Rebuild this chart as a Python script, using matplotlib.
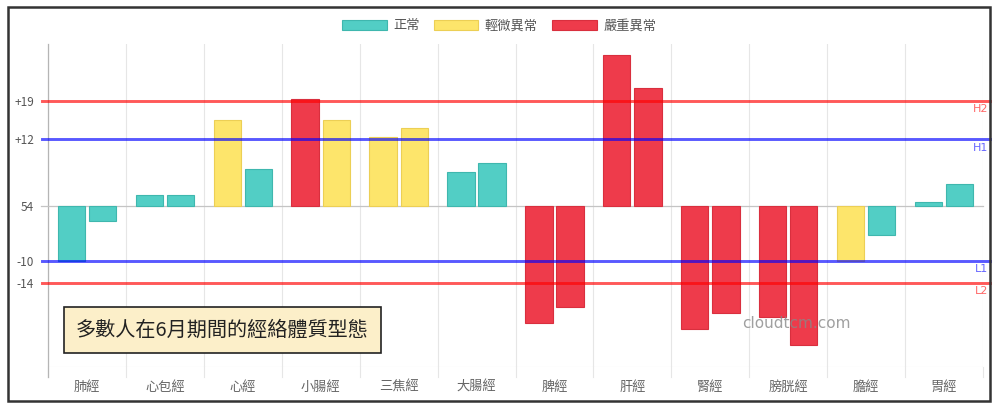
import matplotlib
matplotlib.use('Agg')
import matplotlib.pyplot as plt
from matplotlib.patches import Patch, Rectangle
import numpy as np

plt.rcParams['font.family'] = ['Noto Sans CJK TC', 'DejaVu Sans']

# 經絡名稱與兩組數值（相對於基準 54 的偏差）
categories = ['肺經', '心包經', '心經', '小腸經', '三焦經', '大腸經',
              '脾經', '肝經', '腎經', '膀胱經', '膽經', '胃經']
values_a = [-10, 1.9, 15.5, 19.3, 12.4, 6.1, -21.4, 27.4, -22.4, -20.2, -10, 0.7]
values_b = [-2.8, 1.9, 6.7, 15.5, 14.1, 7.7, -18.5, 21.4, -19.5, -25.3, -5.4, 4.0]
status_a = [0, 0, 1, 2, 1, 0, 2, 2, 2, 2, 1, 0]
status_b = [0, 0, 0, 1, 1, 0, 2, 2, 2, 2, 0, 0]

status_names = ['正常', '輕微異常', '嚴重異常']
status_colors = ['#52cec5', '#fde56b', '#ee3b4b']
status_edges = ['#3fb7ae', '#eccf55', '#d92f3e']

ref_values = [19, 12, -10, -14]
ref_labels = ['H2', 'H1', 'L1', 'L2']
ref_colors = ['red', 'blue', 'blue', 'red']

tick_values = [19, 12, 0, -10, -14]
tick_labels = ['+19', '+12', '54', '-10', '-14']

fig = plt.figure(figsize=(10, 4.12), dpi=100)
ax = fig.add_axes([0.048, 0.1092, 0.935, 0.784])

x = np.arange(len(categories))
w = 0.35
off = 0.2
ax.bar(x - off, values_a, width=w,
       color=[status_colors[s] for s in status_a],
       edgecolor=[status_edges[s] for s in status_a], linewidth=0.8, zorder=2)
ax.bar(x + off, values_b, width=w,
       color=[status_colors[s] for s in status_b],
       edgecolor=[status_edges[s] for s in status_b], linewidth=0.8, zorder=2)

ax.set_xlim(-0.5, len(categories) - 0.5)
ax.set_ylim(-29.36, 29.36)

# 格線
for k in range(len(categories) + 1):
    ax.plot([k - 0.5, k - 0.5], [-29.36, 29.36], color='#e6e6e6', lw=0.8, zorder=0)
    ax.plot([k - 0.5, k - 0.5], [-29.36, -31.2], color='#e6e6e6', lw=0.8,
            zorder=0, clip_on=False)
ax.plot([-0.5, -0.5], [-31.2, 29.36], color='#b5b5b5', lw=0.9, zorder=1, clip_on=False)
ax.axhline(0, xmin=-0.007, xmax=1, color='#c4c4c4', lw=0.9, zorder=1, clip_on=False)
ax.axhline(-29.36, color='#e6e6e6', lw=0.8, zorder=0)

# 參考線
for v, lab, c in zip(ref_values, ref_labels, ref_colors):
    ax.axhline(v, xmin=-0.006, xmax=1.0075, color=c, alpha=0.65, lw=2.1,
               zorder=3, clip_on=False)
    ax.text(1.0055, v - 0.6, lab, transform=ax.get_yaxis_transform(),
            ha='right', va='top', fontsize=8, color=c, alpha=0.6,
            family=['DejaVu Sans'])

for s in ax.spines.values():
    s.set_visible(False)
ax.set_yticks(tick_values)
ax.set_yticklabels(tick_labels)
ax.set_xticks(x)
ax.set_xticklabels(categories)
ax.tick_params(axis='y', length=0, pad=10, labelsize=8.5, labelcolor='#555555')
ax.tick_params(axis='x', length=0, pad=10, labelsize=9.5, labelcolor='#666666')

# 標題框
ax.text(1.74, -22.6, '多數人在6月期間的經絡體質型態', ha='center', va='center',
        fontsize=14.5, color='#222222', zorder=5,
        bbox=dict(boxstyle='square,pad=0.62', facecolor='#fcefc9',
                  edgecolor='#222222', linewidth=1.2))

ax.text(9.1, -21.4, 'cloudtcm.com', ha='center', va='center', fontsize=11,
        color='#888888', alpha=0.8, zorder=4, family=['DejaVu Sans'])

handles = [Patch(facecolor=c, edgecolor=e, linewidth=0.8)
           for c, e in zip(status_colors, status_edges)]
fig.legend(handles, status_names, loc='center', bbox_to_anchor=(0.499, 0.937),
           ncol=3, frameon=False, fontsize=9.5, handlelength=3.4, handleheight=0.8,
           columnspacing=1.05, handletextpad=0.5, labelcolor='#555555')

fig.add_artist(Rectangle((0.008, 0.027), 0.982, 0.956, transform=fig.transFigure,
                         fill=False, edgecolor='#333333', linewidth=1.8))

fig.savefig('out.png', dpi=100)
